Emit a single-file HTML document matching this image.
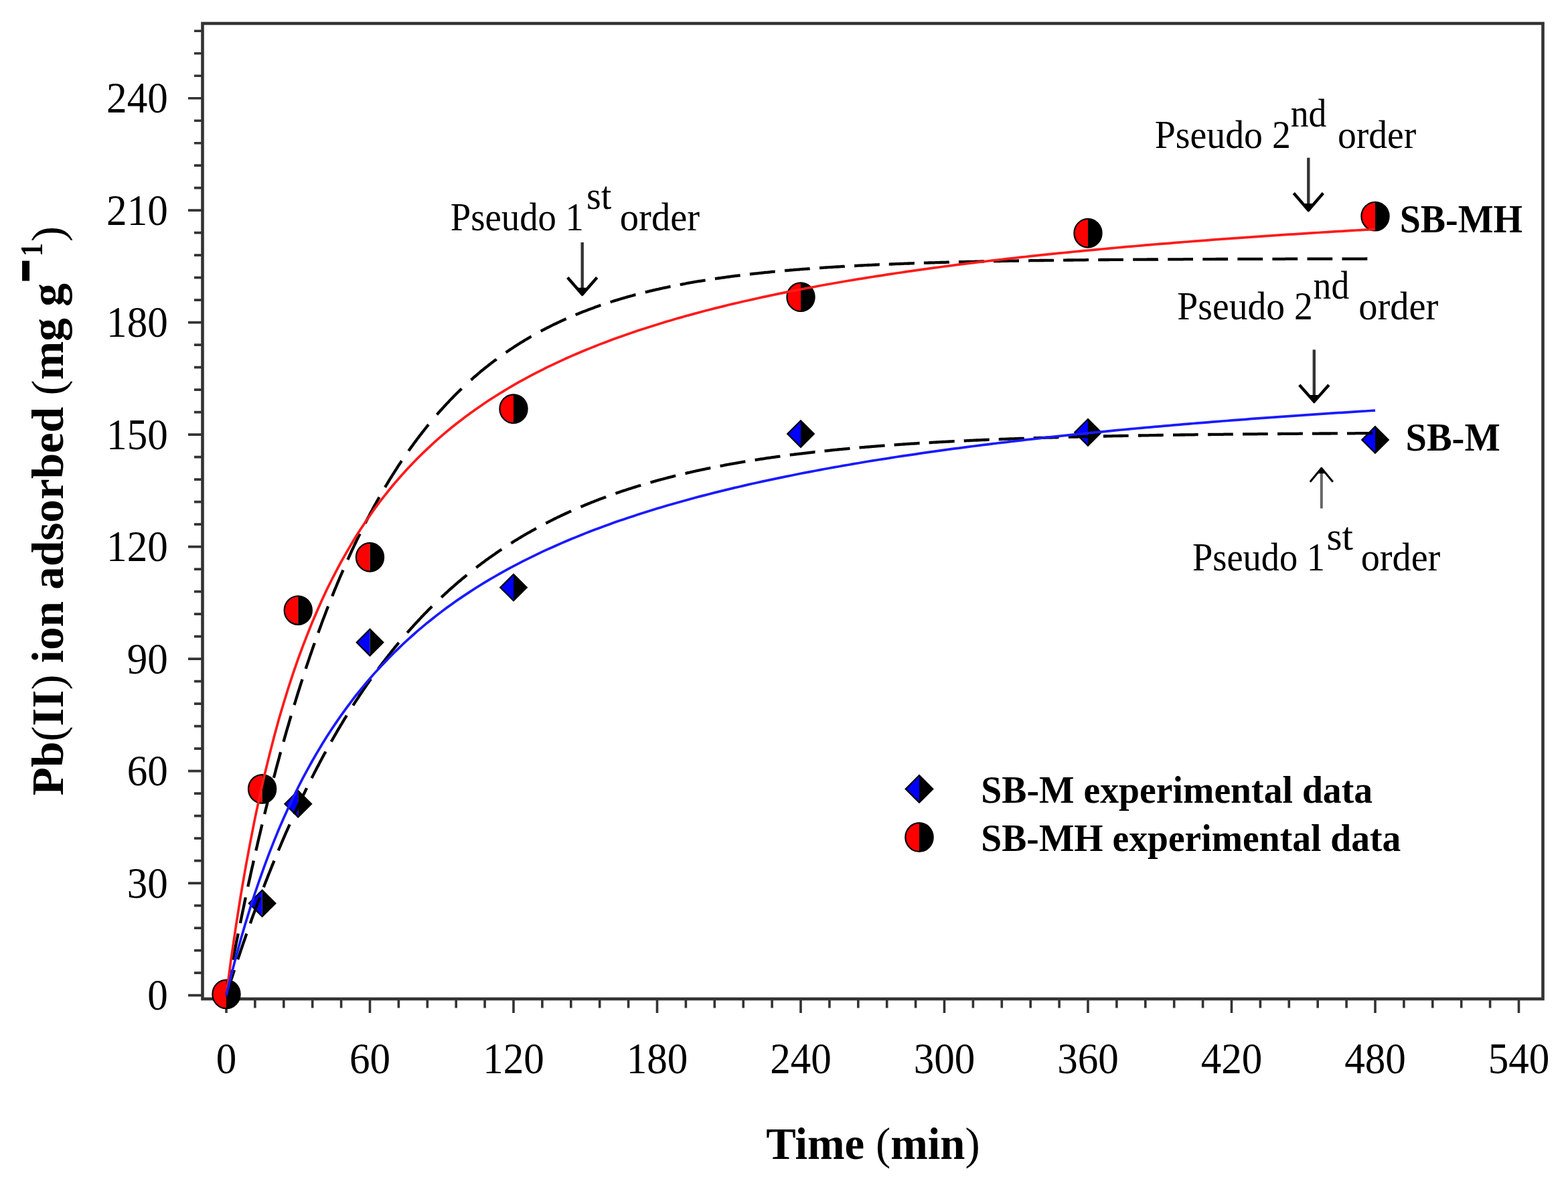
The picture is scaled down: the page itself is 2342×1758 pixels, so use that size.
<!DOCTYPE html>
<html><head><meta charset="utf-8"><title>Pb(II) adsorption kinetics</title>
<style>
html,body{margin:0;padding:0;background:#fff;}
svg{display:block;}
text{font-family:"Liberation Serif","Times New Roman",serif;fill:#000;}

</style></head>
<body>
<svg width="2342" height="1758" viewBox="0 0 2342 1758">
<rect width="2342" height="1758" fill="#fff"/>
<rect x="302.5" y="35.0" width="2002.0" height="1457.0" fill="none" stroke="#333" stroke-width="4.6"/>
<path d="M281.0,1486.60H302.5 M290.0,1453.10H302.5 M290.0,1419.60H302.5 M290.0,1386.11H302.5 M290.0,1352.61H302.5 M281.0,1319.11H302.5 M290.0,1285.61H302.5 M290.0,1252.11H302.5 M290.0,1218.62H302.5 M290.0,1185.12H302.5 M281.0,1151.62H302.5 M290.0,1118.12H302.5 M290.0,1084.62H302.5 M290.0,1051.13H302.5 M290.0,1017.63H302.5 M281.0,984.13H302.5 M290.0,950.63H302.5 M290.0,917.13H302.5 M290.0,883.64H302.5 M290.0,850.14H302.5 M281.0,816.64H302.5 M290.0,783.14H302.5 M290.0,749.64H302.5 M290.0,716.15H302.5 M290.0,682.65H302.5 M281.0,649.15H302.5 M290.0,615.65H302.5 M290.0,582.15H302.5 M290.0,548.66H302.5 M290.0,515.16H302.5 M281.0,481.66H302.5 M290.0,448.16H302.5 M290.0,414.66H302.5 M290.0,381.17H302.5 M290.0,347.67H302.5 M281.0,314.17H302.5 M290.0,280.67H302.5 M290.0,247.17H302.5 M290.0,213.68H302.5 M290.0,180.18H302.5 M281.0,146.68H302.5 M290.0,113.18H302.5 M290.0,79.68H302.5 M290.0,46.19H302.5 M338.00,1492.0V1513.0 M380.90,1492.0V1505.5 M423.80,1492.0V1505.5 M466.70,1492.0V1505.5 M509.60,1492.0V1505.5 M552.50,1492.0V1513.0 M595.40,1492.0V1505.5 M638.30,1492.0V1505.5 M681.20,1492.0V1505.5 M724.10,1492.0V1505.5 M767.00,1492.0V1513.0 M809.90,1492.0V1505.5 M852.80,1492.0V1505.5 M895.70,1492.0V1505.5 M938.60,1492.0V1505.5 M981.50,1492.0V1513.0 M1024.40,1492.0V1505.5 M1067.30,1492.0V1505.5 M1110.20,1492.0V1505.5 M1153.10,1492.0V1505.5 M1196.00,1492.0V1513.0 M1238.90,1492.0V1505.5 M1281.80,1492.0V1505.5 M1324.70,1492.0V1505.5 M1367.60,1492.0V1505.5 M1410.50,1492.0V1513.0 M1453.40,1492.0V1505.5 M1496.30,1492.0V1505.5 M1539.20,1492.0V1505.5 M1582.10,1492.0V1505.5 M1625.00,1492.0V1513.0 M1667.90,1492.0V1505.5 M1710.80,1492.0V1505.5 M1753.70,1492.0V1505.5 M1796.60,1492.0V1505.5 M1839.50,1492.0V1513.0 M1882.40,1492.0V1505.5 M1925.30,1492.0V1505.5 M1968.20,1492.0V1505.5 M2011.10,1492.0V1505.5 M2054.00,1492.0V1513.0 M2096.90,1492.0V1505.5 M2139.80,1492.0V1505.5 M2182.70,1492.0V1505.5 M2225.60,1492.0V1505.5 M2268.50,1492.0V1513.0" stroke="#333" stroke-width="3.6" fill="none"/>
<text class="r" transform="translate(250.79,1508.41) scale(0.92,1)" font-size="66.5" text-anchor="end">0</text>
<text class="r" transform="translate(250.79,1340.92) scale(0.92,1)" font-size="66.5" text-anchor="end">30</text>
<text class="r" transform="translate(250.79,1173.43) scale(0.92,1)" font-size="66.5" text-anchor="end">60</text>
<text class="r" transform="translate(250.79,1005.94) scale(0.92,1)" font-size="66.5" text-anchor="end">90</text>
<text class="r" transform="translate(250.79,838.45) scale(0.92,1)" font-size="66.5" text-anchor="end">120</text>
<text class="r" transform="translate(250.79,670.96) scale(0.92,1)" font-size="66.5" text-anchor="end">150</text>
<text class="r" transform="translate(250.79,503.47) scale(0.92,1)" font-size="66.5" text-anchor="end">180</text>
<text class="r" transform="translate(250.79,335.98) scale(0.92,1)" font-size="66.5" text-anchor="end">210</text>
<text class="r" transform="translate(250.79,168.49) scale(0.92,1)" font-size="66.5" text-anchor="end">240</text>
<text class="r" transform="translate(338.00,1602.6) scale(0.92,1)" font-size="66.5" text-anchor="middle">0</text>
<text class="r" transform="translate(552.50,1602.6) scale(0.92,1)" font-size="66.5" text-anchor="middle">60</text>
<text class="r" transform="translate(767.00,1602.6) scale(0.92,1)" font-size="66.5" text-anchor="middle">120</text>
<text class="r" transform="translate(981.50,1602.6) scale(0.92,1)" font-size="66.5" text-anchor="middle">180</text>
<text class="r" transform="translate(1196.00,1602.6) scale(0.92,1)" font-size="66.5" text-anchor="middle">240</text>
<text class="r" transform="translate(1410.50,1602.6) scale(0.92,1)" font-size="66.5" text-anchor="middle">300</text>
<text class="r" transform="translate(1625.00,1602.6) scale(0.92,1)" font-size="66.5" text-anchor="middle">360</text>
<text class="r" transform="translate(1839.50,1602.6) scale(0.92,1)" font-size="66.5" text-anchor="middle">420</text>
<text class="r" transform="translate(2054.00,1602.6) scale(0.92,1)" font-size="66.5" text-anchor="middle">480</text>
<text class="r" transform="translate(2268.50,1602.6) scale(0.92,1)" font-size="66.5" text-anchor="middle">540</text>
<g><path d="M338.0,1466.8 L318.2,1486.6 L338.0,1506.3999999999999 Z" fill="#0000ff"/><path d="M338.0,1466.8 L357.8,1486.6 L338.0,1506.3999999999999 Z" fill="#000"/><path d="M338.0,1466.8 L357.8,1486.6 L338.0,1506.3999999999999 L318.2,1486.6 Z" fill="none" stroke="#000" stroke-width="2.2" stroke-linejoin="miter"/></g>
<g><path d="M391.62,1329.46 L371.82,1349.26 L391.62,1369.06 Z" fill="#0000ff"/><path d="M391.62,1329.46 L411.42,1349.26 L391.62,1369.06 Z" fill="#000"/><path d="M391.62,1329.46 L411.42,1349.26 L391.62,1369.06 L371.82,1349.26 Z" fill="none" stroke="#000" stroke-width="2.2" stroke-linejoin="miter"/></g>
<g><path d="M445.25,1180.95 L425.45,1200.75 L445.25,1220.55 Z" fill="#0000ff"/><path d="M445.25,1180.95 L465.05,1200.75 L445.25,1220.55 Z" fill="#000"/><path d="M445.25,1180.95 L465.05,1200.75 L445.25,1220.55 L425.45,1200.75 Z" fill="none" stroke="#000" stroke-width="2.2" stroke-linejoin="miter"/></g>
<g><path d="M552.5,939.76 L532.7,959.56 L552.5,979.3599999999999 Z" fill="#0000ff"/><path d="M552.5,939.76 L572.3,959.56 L552.5,979.3599999999999 Z" fill="#000"/><path d="M552.5,939.76 L572.3,959.56 L552.5,979.3599999999999 L532.7,959.56 Z" fill="none" stroke="#000" stroke-width="2.2" stroke-linejoin="miter"/></g>
<g><path d="M767.0,857.69 L747.2,877.49 L767.0,897.29 Z" fill="#0000ff"/><path d="M767.0,857.69 L786.8,877.49 L767.0,897.29 Z" fill="#000"/><path d="M767.0,857.69 L786.8,877.49 L767.0,897.29 L747.2,877.49 Z" fill="none" stroke="#000" stroke-width="2.2" stroke-linejoin="miter"/></g>
<g><path d="M1196.0,628.23 L1176.2,648.03 L1196.0,667.8299999999999 Z" fill="#0000ff"/><path d="M1196.0,628.23 L1215.8,648.03 L1196.0,667.8299999999999 Z" fill="#000"/><path d="M1196.0,628.23 L1215.8,648.03 L1196.0,667.8299999999999 L1176.2,648.03 Z" fill="none" stroke="#000" stroke-width="2.2" stroke-linejoin="miter"/></g>
<g><path d="M1625.0,626.0 L1605.2,645.8 L1625.0,665.5999999999999 Z" fill="#0000ff"/><path d="M1625.0,626.0 L1644.8,645.8 L1625.0,665.5999999999999 Z" fill="#000"/><path d="M1625.0,626.0 L1644.8,645.8 L1625.0,665.5999999999999 L1605.2,645.8 Z" fill="none" stroke="#000" stroke-width="2.2" stroke-linejoin="miter"/></g>
<g><path d="M2054.0,637.1700000000001 L2034.2,656.97 L2054.0,676.77 Z" fill="#0000ff"/><path d="M2054.0,637.1700000000001 L2073.8,656.97 L2054.0,676.77 Z" fill="#000"/><path d="M2054.0,637.1700000000001 L2073.8,656.97 L2054.0,676.77 L2034.2,656.97 Z" fill="none" stroke="#000" stroke-width="2.2" stroke-linejoin="miter"/></g>
<g><path d="M338.0,1463.6090000000002 A20.6,21.321 0 0 0 338.0,1506.251 Z" fill="#ff0000"/><path d="M338.0,1463.6090000000002 A20.6,21.321 0 0 1 338.0,1506.251 Z" fill="#000"/><ellipse cx="338.0" cy="1484.93" rx="20.6" ry="21.321" fill="none" stroke="#000" stroke-width="2.2"/></g>
<g><path d="M391.62,1157.0990000000002 A20.6,21.321 0 0 0 391.62,1199.741 Z" fill="#ff0000"/><path d="M391.62,1157.0990000000002 A20.6,21.321 0 0 1 391.62,1199.741 Z" fill="#000"/><ellipse cx="391.62" cy="1178.42" rx="20.6" ry="21.321" fill="none" stroke="#000" stroke-width="2.2"/></g>
<g><path d="M445.25,890.2289999999999 A20.6,21.321 0 0 0 445.25,932.871 Z" fill="#ff0000"/><path d="M445.25,890.2289999999999 A20.6,21.321 0 0 1 445.25,932.871 Z" fill="#000"/><ellipse cx="445.25" cy="911.55" rx="20.6" ry="21.321" fill="none" stroke="#000" stroke-width="2.2"/></g>
<g><path d="M552.5,810.949 A20.6,21.321 0 0 0 552.5,853.591 Z" fill="#ff0000"/><path d="M552.5,810.949 A20.6,21.321 0 0 1 552.5,853.591 Z" fill="#000"/><ellipse cx="552.5" cy="832.27" rx="20.6" ry="21.321" fill="none" stroke="#000" stroke-width="2.2"/></g>
<g><path d="M767.0,589.309 A20.6,21.321 0 0 0 767.0,631.951 Z" fill="#ff0000"/><path d="M767.0,589.309 A20.6,21.321 0 0 1 767.0,631.951 Z" fill="#000"/><ellipse cx="767.0" cy="610.63" rx="20.6" ry="21.321" fill="none" stroke="#000" stroke-width="2.2"/></g>
<g><path d="M1196.0,422.37899999999996 A20.6,21.321 0 0 0 1196.0,465.021 Z" fill="#ff0000"/><path d="M1196.0,422.37899999999996 A20.6,21.321 0 0 1 1196.0,465.021 Z" fill="#000"/><ellipse cx="1196.0" cy="443.7" rx="20.6" ry="21.321" fill="none" stroke="#000" stroke-width="2.2"/></g>
<g><path d="M1625.0,326.909 A20.6,21.321 0 0 0 1625.0,369.55100000000004 Z" fill="#ff0000"/><path d="M1625.0,326.909 A20.6,21.321 0 0 1 1625.0,369.55100000000004 Z" fill="#000"/><ellipse cx="1625.0" cy="348.23" rx="20.6" ry="21.321" fill="none" stroke="#000" stroke-width="2.2"/></g>
<g><path d="M2054.0,301.779 A20.6,21.321 0 0 0 2054.0,344.42100000000005 Z" fill="#ff0000"/><path d="M2054.0,301.779 A20.6,21.321 0 0 1 2054.0,344.42100000000005 Z" fill="#000"/><ellipse cx="2054.0" cy="323.1" rx="20.6" ry="21.321" fill="none" stroke="#000" stroke-width="2.2"/></g>
<path d="M338.0,1486.6 L339.4,1478.9 L340.9,1471.2 L342.3,1463.6 L343.7,1456.0 L345.1,1448.5 M348.0,1433.6 L349.4,1426.2 L350.9,1418.9 L352.3,1411.6 L353.7,1404.4 L355.2,1397.3 L355.7,1394.4 M358.9,1378.9 L360.3,1371.9 L361.7,1365.0 L363.2,1358.1 L364.6,1351.3 L366.0,1344.5 L366.9,1340.4 M370.3,1324.4 L371.7,1317.8 L373.2,1311.3 L374.6,1304.8 L376.0,1298.3 L377.5,1291.9 L378.9,1285.5 M382.3,1270.4 L383.8,1264.2 L385.2,1258.0 L386.6,1251.9 L388.1,1245.8 L389.5,1239.8 L390.9,1233.8 L391.5,1231.4 M395.2,1216.0 L396.6,1210.2 L398.1,1204.4 L399.5,1198.6 L400.9,1192.9 L402.4,1187.3 L403.8,1181.6 L404.9,1177.2 M408.9,1161.7 L410.4,1156.2 L411.8,1150.8 L413.2,1145.4 L414.6,1140.1 L416.1,1134.8 L417.5,1129.5 L418.9,1124.3 L419.2,1123.3 M423.5,1107.8 L424.9,1102.8 L426.4,1097.7 L427.8,1092.7 L429.2,1087.8 L430.7,1082.8 L432.1,1077.9 L433.5,1073.1 L434.7,1069.2 M439.5,1053.0 L441.0,1048.3 L442.4,1043.7 L443.8,1039.1 L445.2,1034.5 L446.7,1029.9 L448.1,1025.4 L449.5,1020.9 L451.0,1016.4 L451.5,1014.6 M456.7,998.9 L458.1,994.6 L459.6,990.3 L461.0,986.1 L462.4,981.8 L463.8,977.7 L465.3,973.5 L466.7,969.4 L468.1,965.3 L469.6,961.2 L469.8,960.4 M475.3,945.2 L476.7,941.3 L478.1,937.4 L479.6,933.5 L481.0,929.6 L482.4,925.8 L483.9,922.0 L485.3,918.3 L486.7,914.5 L488.1,910.8 L489.6,907.1 L490.2,905.7 M496.2,890.5 L497.6,886.9 L499.0,883.4 L500.4,879.9 L501.9,876.5 L503.3,873.0 L504.7,869.6 L506.2,866.2 L507.6,862.8 L509.0,859.5 L510.5,856.1 L511.9,852.8 L512.5,851.5 M519.3,836.0 L520.8,832.9 L522.2,829.7 L523.6,826.6 L525.0,823.5 L526.5,820.4 L527.9,817.4 L529.3,814.4 L530.8,811.3 L532.2,808.4 L533.6,805.4 L535.1,802.4 L536.5,799.5 L537.6,797.2 M545.4,781.8 L546.8,779.0 L548.2,776.3 L549.6,773.5 L551.1,770.8 L552.5,768.1 L553.9,765.4 L555.4,762.8 L556.8,760.1 L558.2,757.5 L559.6,754.9 L561.1,752.3 L562.5,749.7 L563.9,747.2 L565.4,744.6 L566.5,742.6 M575.1,727.8 L576.5,725.4 L578.0,723.1 L579.4,720.7 L580.8,718.3 L582.2,716.0 L583.7,713.7 L585.1,711.4 L586.5,709.1 L588.0,706.8 L589.4,704.6 L590.8,702.3 L592.3,700.1 L593.7,697.9 L595.1,695.7 L596.5,693.5 L598.0,691.4 L599.4,689.2 L600.0,688.4 M610.3,673.4 L611.7,671.4 L613.1,669.4 L614.6,667.4 L616.0,665.4 L617.4,663.5 L618.9,661.5 L620.3,659.6 L621.7,657.7 L623.1,655.7 L624.6,653.9 L626.0,652.0 L627.4,650.1 L628.9,648.3 L630.3,646.4 L631.7,644.6 L633.2,642.8 L634.6,641.0 L636.0,639.2 L637.4,637.4 L638.9,635.6 L640.0,634.2 M652.6,619.3 L654.0,617.7 L655.5,616.0 L656.9,614.4 L658.3,612.8 L659.8,611.2 L661.2,609.6 L662.6,608.1 L664.0,606.5 L665.5,605.0 L666.9,603.4 L668.3,601.9 L669.8,600.4 L671.2,598.9 L672.6,597.4 L674.0,595.9 L675.5,594.4 L676.9,593.0 L678.3,591.5 L679.8,590.1 L681.2,588.6 L682.6,587.2 L684.1,585.8 L685.5,584.4 L686.9,583.0 L688.4,581.6 L689.5,580.5 M703.5,567.5 L704.9,566.3 L706.4,565.0 L707.8,563.7 L709.2,562.5 L710.7,561.3 L712.1,560.0 L713.5,558.8 L714.9,557.6 L716.4,556.4 L717.8,555.2 L719.2,554.0 L720.7,552.8 L722.1,551.7 L723.5,550.5 L725.0,549.3 L726.4,548.2 L727.8,547.1 L729.2,545.9 L730.7,544.8 L732.1,543.7 L733.5,542.6 L735.0,541.5 L736.4,540.4 L737.8,539.3 L739.3,538.2 L740.7,537.2 L741.5,536.5 M755.6,526.5 L757.0,525.5 L758.4,524.5 L759.9,523.6 L761.3,522.6 L762.7,521.6 L764.1,520.7 L765.6,519.7 L767.0,518.8 L768.4,517.9 L769.9,516.9 L771.3,516.0 L772.7,515.1 L774.2,514.2 L775.6,513.3 L777.0,512.4 L778.4,511.5 L779.9,510.6 L781.3,509.8 L782.7,508.9 L784.2,508.0 L785.6,507.2 L787.0,506.3 L788.5,505.5 L789.9,504.7 L791.3,503.8 L792.7,503.0 L793.6,502.5 M807.6,494.7 L809.0,494.0 L810.5,493.2 L811.9,492.5 L813.3,491.7 L814.8,491.0 L816.2,490.2 L817.6,489.5 L819.1,488.8 L820.5,488.1 L821.9,487.3 L823.3,486.6 L824.8,485.9 L826.2,485.2 L827.6,484.5 L829.1,483.8 L830.5,483.2 L831.9,482.5 L833.4,481.8 L834.8,481.1 L836.2,480.5 L837.6,479.8 L839.1,479.1 L840.5,478.5 L841.9,477.8 L843.4,477.2 L844.8,476.6 L845.7,476.2 M859.7,470.2 L861.1,469.6 L862.5,469.0 L864.0,468.4 L865.4,467.8 L866.8,467.3 L868.2,466.7 L869.7,466.1 L871.1,465.6 L872.5,465.0 L874.0,464.5 L875.4,463.9 L876.8,463.4 L878.3,462.8 L879.7,462.3 L881.1,461.8 L882.5,461.2 L884.0,460.7 L885.4,460.2 L886.8,459.7 L888.3,459.1 L889.7,458.6 L891.1,458.1 L892.6,457.6 L894.0,457.1 L895.4,456.6 L896.8,456.1 L897.4,455.9 M911.7,451.2 L913.1,450.7 L914.6,450.3 L916.0,449.8 L917.4,449.4 L918.9,448.9 L920.3,448.5 L921.7,448.1 L923.2,447.6 L924.6,447.2 L926.0,446.8 L927.4,446.3 L928.9,445.9 L930.3,445.5 L931.7,445.1 L933.2,444.7 L934.6,444.3 L936.0,443.8 L937.5,443.4 L938.9,443.0 L940.3,442.6 L941.7,442.2 L943.2,441.8 L944.6,441.5 L946.0,441.1 L947.5,440.7 L948.9,440.3 L949.5,440.2 M963.8,436.5 L965.2,436.1 L966.6,435.8 L968.1,435.4 L969.5,435.1 L970.9,434.7 L972.3,434.4 L973.8,434.1 L975.2,433.7 L976.6,433.4 L978.1,433.1 L979.5,432.7 L980.9,432.4 L982.4,432.1 L983.8,431.8 L985.2,431.4 L986.6,431.1 L988.1,430.8 L989.5,430.5 L990.9,430.2 L992.4,429.9 L993.8,429.6 L995.2,429.3 L996.7,429.0 L998.1,428.7 L999.5,428.4 L1000.9,428.1 L1001.5,428.0 M1015.8,425.1 L1017.2,424.8 L1018.7,424.6 L1020.1,424.3 L1021.5,424.0 L1023.0,423.8 L1024.4,423.5 L1025.8,423.2 L1027.3,423.0 L1028.7,422.7 L1030.1,422.5 L1031.6,422.2 L1033.0,422.0 L1034.4,421.7 L1035.8,421.5 L1037.3,421.2 L1038.7,421.0 L1040.1,420.7 L1041.6,420.5 L1043.0,420.2 L1044.4,420.0 L1045.8,419.8 L1047.3,419.5 L1048.7,419.3 L1050.1,419.1 L1051.6,418.8 L1053.0,418.6 L1053.6,418.5 M1067.9,416.3 L1069.3,416.1 L1070.7,415.9 L1072.2,415.7 L1073.6,415.5 L1075.0,415.3 L1076.5,415.1 L1077.9,414.9 L1079.3,414.7 L1080.7,414.5 L1082.2,414.3 L1083.6,414.1 L1085.0,413.9 L1086.5,413.7 L1087.9,413.5 L1089.3,413.3 L1090.8,413.1 L1092.2,412.9 L1093.6,412.7 L1095.0,412.6 L1096.5,412.4 L1097.9,412.2 L1099.3,412.0 L1100.8,411.8 L1102.2,411.6 L1103.6,411.5 L1105.1,411.3 L1105.6,411.2 M1119.9,409.5 L1121.4,409.4 L1122.8,409.2 L1124.2,409.0 L1125.6,408.9 L1127.1,408.7 L1128.5,408.6 L1129.9,408.4 L1131.4,408.3 L1132.8,408.1 L1134.2,407.9 L1135.7,407.8 L1137.1,407.6 L1138.5,407.5 L1139.9,407.3 L1141.4,407.2 L1142.8,407.0 L1144.2,406.9 L1145.7,406.8 L1147.1,406.6 L1148.5,406.5 L1150.0,406.3 L1151.4,406.2 L1152.8,406.0 L1154.2,405.9 L1155.7,405.8 L1157.1,405.6 L1157.7,405.6 M1172.0,404.3 L1173.4,404.1 L1174.8,404.0 L1176.3,403.9 L1177.7,403.8 L1179.1,403.6 L1180.6,403.5 L1182.0,403.4 L1183.4,403.3 L1184.8,403.2 L1186.3,403.0 L1187.7,402.9 L1189.1,402.8 L1190.6,402.7 L1192.0,402.6 L1193.4,402.5 L1194.9,402.3 L1196.3,402.2 L1197.7,402.1 L1199.1,402.0 L1200.6,401.9 L1202.0,401.8 L1203.4,401.7 L1204.9,401.6 L1206.3,401.5 L1207.7,401.4 L1209.2,401.3 L1209.7,401.2 M1224.0,400.2 L1225.5,400.1 L1226.9,400.0 L1228.3,399.9 L1229.7,399.8 L1231.2,399.7 L1232.6,399.6 L1234.0,399.5 L1235.5,399.4 L1236.9,399.3 L1238.3,399.2 L1239.8,399.2 L1241.2,399.1 L1242.6,399.0 L1244.0,398.9 L1245.5,398.8 L1246.9,398.7 L1248.3,398.6 L1249.8,398.5 L1251.2,398.5 L1252.6,398.4 L1254.1,398.3 L1255.5,398.2 L1256.9,398.1 L1258.3,398.0 L1259.8,397.9 L1261.2,397.9 L1261.8,397.8 M1276.1,397.0 L1277.5,397.0 L1278.9,396.9 L1280.4,396.8 L1281.8,396.7 L1283.2,396.7 L1284.7,396.6 L1286.1,396.5 L1287.5,396.5 L1289.0,396.4 L1290.4,396.3 L1291.8,396.2 L1293.2,396.2 L1294.7,396.1 L1296.1,396.0 L1297.5,396.0 L1299.0,395.9 L1300.4,395.8 L1301.8,395.8 L1303.2,395.7 L1304.7,395.6 L1306.1,395.6 L1307.5,395.5 L1309.0,395.4 L1310.4,395.4 L1311.8,395.3 L1313.3,395.2 L1313.8,395.2 M1327.8,394.6 L1329.3,394.6 L1330.7,394.5 L1332.1,394.5 L1333.6,394.4 L1335.0,394.3 L1336.4,394.3 L1337.9,394.2 L1339.3,394.2 L1340.7,394.1 L1342.1,394.1 L1343.6,394.0 L1345.0,394.0 L1346.4,393.9 L1347.9,393.8 L1349.3,393.8 L1350.7,393.7 L1352.2,393.7 L1353.6,393.6 L1355.0,393.6 L1356.4,393.5 L1357.9,393.5 L1359.3,393.4 L1360.7,393.4 L1362.2,393.3 L1363.6,393.3 L1365.0,393.2 L1365.9,393.2 M1379.9,392.7 L1381.3,392.7 L1382.8,392.7 L1384.2,392.6 L1385.6,392.6 L1387.0,392.5 L1388.5,392.5 L1389.9,392.4 L1391.3,392.4 L1392.8,392.3 L1394.2,392.3 L1395.6,392.3 L1397.1,392.2 L1398.5,392.2 L1399.9,392.1 L1401.3,392.1 L1402.8,392.1 L1404.2,392.0 L1405.6,392.0 L1407.1,391.9 L1408.5,391.9 L1409.9,391.9 L1411.4,391.8 L1412.8,391.8 L1414.2,391.7 L1415.6,391.7 L1417.1,391.7 L1417.9,391.6 M1432.0,391.3 L1433.4,391.2 L1434.8,391.2 L1436.2,391.2 L1437.7,391.1 L1439.1,391.1 L1440.5,391.1 L1442.0,391.0 L1443.4,391.0 L1444.8,391.0 L1446.2,390.9 L1447.7,390.9 L1449.1,390.9 L1450.5,390.8 L1452.0,390.8 L1453.4,390.8 L1454.8,390.8 L1456.3,390.7 L1457.7,390.7 L1459.1,390.7 L1460.5,390.6 L1462.0,390.6 L1463.4,390.6 L1464.8,390.5 L1466.3,390.5 L1467.7,390.5 L1469.1,390.4 L1470.0,390.4 M1484.0,390.2 L1485.4,390.1 L1486.9,390.1 L1488.3,390.1 L1489.7,390.0 L1491.2,390.0 L1492.6,390.0 L1494.0,390.0 L1495.4,389.9 L1496.9,389.9 L1498.3,389.9 L1499.7,389.9 L1501.2,389.8 L1502.6,389.8 L1504.0,389.8 L1505.5,389.8 L1506.9,389.7 L1508.3,389.7 L1509.7,389.7 L1511.2,389.7 L1512.6,389.6 L1514.0,389.6 L1515.5,389.6 L1516.9,389.6 L1518.3,389.6 L1519.8,389.5 L1521.2,389.5 L1522.0,389.5 M1536.1,389.3 L1537.5,389.3 L1538.9,389.2 L1540.3,389.2 L1541.8,389.2 L1543.2,389.2 L1544.6,389.2 L1546.1,389.1 L1547.5,389.1 L1548.9,389.1 L1550.4,389.1 L1551.8,389.1 L1553.2,389.0 L1554.6,389.0 L1556.1,389.0 L1557.5,389.0 L1558.9,389.0 L1560.4,388.9 L1561.8,388.9 L1563.2,388.9 L1564.7,388.9 L1566.1,388.9 L1567.5,388.9 L1568.9,388.8 L1570.4,388.8 L1571.8,388.8 L1573.2,388.8 L1574.1,388.8 M1588.1,388.6 L1589.5,388.6 L1591.0,388.6 L1592.4,388.6 L1593.8,388.5 L1595.3,388.5 L1596.7,388.5 L1598.1,388.5 L1599.5,388.5 L1601.0,388.5 L1602.4,388.5 L1603.8,388.4 L1605.3,388.4 L1606.7,388.4 L1608.1,388.4 L1609.6,388.4 L1611.0,388.4 L1612.4,388.3 L1613.8,388.3 L1615.3,388.3 L1616.7,388.3 L1618.1,388.3 L1619.6,388.3 L1621.0,388.3 L1622.4,388.2 L1623.9,388.2 L1625.3,388.2 L1626.1,388.2 M1640.2,388.1 L1641.6,388.1 L1643.0,388.1 L1644.4,388.0 L1645.9,388.0 L1647.3,388.0 L1648.7,388.0 L1650.2,388.0 L1651.6,388.0 L1653.0,388.0 L1654.5,388.0 L1655.9,388.0 L1657.3,387.9 L1658.7,387.9 L1660.2,387.9 L1661.6,387.9 L1663.0,387.9 L1664.5,387.9 L1665.9,387.9 L1667.3,387.9 L1668.8,387.9 L1670.2,387.8 L1671.6,387.8 L1673.0,387.8 L1674.5,387.8 L1675.9,387.8 L1677.3,387.8 L1677.9,387.8 M1692.2,387.7 L1693.6,387.7 L1695.1,387.7 L1696.5,387.7 L1697.9,387.6 L1699.4,387.6 L1700.8,387.6 L1702.2,387.6 L1703.7,387.6 L1705.1,387.6 L1706.5,387.6 L1707.9,387.6 L1709.4,387.6 L1710.8,387.6 L1712.2,387.6 L1713.7,387.5 L1715.1,387.5 L1716.5,387.5 L1718.0,387.5 L1719.4,387.5 L1720.8,387.5 L1722.2,387.5 L1723.7,387.5 L1725.1,387.5 L1726.5,387.5 L1728.0,387.5 L1729.4,387.5 L1730.0,387.4 M1744.3,387.4 L1745.7,387.4 L1747.1,387.4 L1748.6,387.3 L1750.0,387.3 L1751.4,387.3 L1752.8,387.3 L1754.3,387.3 L1755.7,387.3 L1757.1,387.3 L1758.6,387.3 L1760.0,387.3 L1761.4,387.3 L1762.9,387.3 L1764.3,387.3 L1765.7,387.3 L1767.1,387.3 L1768.6,387.2 L1770.0,387.2 L1771.4,387.2 L1772.9,387.2 L1774.3,387.2 L1775.7,387.2 L1777.2,387.2 L1778.6,387.2 L1780.0,387.2 L1781.4,387.2 L1782.0,387.2 M1796.3,387.1 L1797.7,387.1 L1799.2,387.1 L1800.6,387.1 L1802.0,387.1 L1803.5,387.1 L1804.9,387.1 L1806.3,387.1 L1807.8,387.1 L1809.2,387.1 L1810.6,387.1 L1812.0,387.1 L1813.5,387.1 L1814.9,387.1 L1816.3,387.0 L1817.8,387.0 L1819.2,387.0 L1820.6,387.0 L1822.1,387.0 L1823.5,387.0 L1824.9,387.0 L1826.3,387.0 L1827.8,387.0 L1829.2,387.0 L1830.6,387.0 L1832.1,387.0 L1833.5,387.0 L1834.1,387.0 M1848.4,386.9 L1849.8,386.9 L1851.2,386.9 L1852.7,386.9 L1854.1,386.9 L1855.5,386.9 L1856.9,386.9 L1858.4,386.9 L1859.8,386.9 L1861.2,386.9 L1862.7,386.9 L1864.1,386.9 L1865.5,386.9 L1867.0,386.9 L1868.4,386.9 L1869.8,386.9 L1871.2,386.9 L1872.7,386.9 L1874.1,386.9 L1875.5,386.9 L1877.0,386.9 L1878.4,386.9 L1879.8,386.8 L1881.3,386.8 L1882.7,386.8 L1884.1,386.8 L1885.5,386.8 L1886.1,386.8 M1900.4,386.8 L1901.8,386.8 L1903.3,386.8 L1904.7,386.8 L1906.1,386.8 L1907.6,386.8 L1909.0,386.8 L1910.4,386.8 L1911.9,386.8 L1913.3,386.8 L1914.7,386.8 L1916.1,386.8 L1917.6,386.8 L1919.0,386.8 L1920.4,386.7 L1921.9,386.7 L1923.3,386.7 L1924.7,386.7 L1926.2,386.7 L1927.6,386.7 L1929.0,386.7 L1930.4,386.7 L1931.9,386.7 L1933.3,386.7 L1934.7,386.7 L1936.2,386.7 L1937.6,386.7 L1938.2,386.7 M1952.5,386.7 L1953.9,386.7 L1955.3,386.7 L1956.8,386.7 L1958.2,386.7 L1959.6,386.7 L1961.1,386.7 L1962.5,386.7 L1963.9,386.7 L1965.3,386.7 L1966.8,386.7 L1968.2,386.7 L1969.6,386.7 L1971.1,386.7 L1972.5,386.6 L1973.9,386.6 L1975.4,386.6 L1976.8,386.6 L1978.2,386.6 L1979.6,386.6 L1981.1,386.6 L1982.5,386.6 L1983.9,386.6 L1985.4,386.6 L1986.8,386.6 L1988.2,386.6 L1989.7,386.6 L1990.2,386.6 M2004.5,386.6 L2006.0,386.6 L2007.4,386.6 L2008.8,386.6 L2010.2,386.6 L2011.7,386.6 L2013.1,386.6 L2014.5,386.6 L2016.0,386.6 L2017.4,386.6 L2018.8,386.6 L2020.3,386.6 L2021.7,386.6 L2023.1,386.6 L2024.5,386.6 L2026.0,386.6 L2027.4,386.6 L2028.8,386.6 L2030.3,386.6 L2031.7,386.6 L2033.1,386.6 L2034.6,386.6 L2036.0,386.6 L2037.4,386.6 L2038.8,386.6 L2040.3,386.5 L2041.7,386.5 L2042.3,386.5" stroke="#000" stroke-width="4.3" fill="none"/>
<path d="M338.0,1486.6 L339.4,1482.0 L340.9,1477.5 L342.3,1472.9 L343.7,1468.4 L345.1,1463.9 L346.6,1459.5 L348.0,1455.0 L349.4,1450.6 L350.0,1448.9 M355.2,1433.2 L356.6,1428.9 L358.0,1424.7 L359.4,1420.4 L360.9,1416.2 L362.3,1412.0 L363.7,1407.8 L365.2,1403.7 L366.6,1399.6 L368.0,1395.4 L368.3,1394.6 M373.8,1379.2 L375.2,1375.2 L376.6,1371.3 L378.0,1367.3 L379.5,1363.4 L380.9,1359.5 L382.3,1355.6 L383.8,1351.7 L385.2,1347.9 L386.6,1344.0 L388.1,1340.2 M393.8,1325.2 L395.2,1321.5 L396.6,1317.8 L398.1,1314.2 L399.5,1310.5 L400.9,1306.9 L402.4,1303.3 L403.8,1299.7 L405.2,1296.2 L406.6,1292.6 L408.1,1289.1 L409.5,1285.6 M415.8,1270.4 L417.2,1267.0 L418.7,1263.6 L420.1,1260.2 L421.5,1256.9 L422.9,1253.6 L424.4,1250.2 L425.8,1246.9 L427.2,1243.7 L428.7,1240.4 L430.1,1237.2 L431.5,1234.0 L432.7,1231.4 M439.5,1216.2 L441.0,1213.1 L442.4,1210.0 L443.8,1207.0 L445.2,1203.9 L446.7,1200.9 L448.1,1197.8 L449.5,1194.8 L451.0,1191.8 L452.4,1188.9 L453.8,1185.9 L455.3,1183.0 L456.7,1180.0 L458.1,1177.1 M465.6,1162.2 L467.0,1159.4 L468.4,1156.6 L469.8,1153.8 L471.3,1151.1 L472.7,1148.3 L474.1,1145.6 L475.6,1142.9 L477.0,1140.1 L478.4,1137.4 L479.9,1134.8 L481.3,1132.1 L482.7,1129.5 L484.1,1126.8 L485.6,1124.2 L486.4,1122.6 M494.7,1107.8 L496.2,1105.2 L497.6,1102.7 L499.0,1100.2 L500.4,1097.8 L501.9,1095.3 L503.3,1092.9 L504.7,1090.4 L506.2,1088.0 L507.6,1085.6 L509.0,1083.2 L510.5,1080.8 L511.9,1078.4 L513.3,1076.1 L514.7,1073.7 L516.2,1071.4 L517.6,1069.1 L517.9,1068.6 M527.3,1053.7 L528.8,1051.4 L530.2,1049.2 L531.6,1047.0 L533.1,1044.8 L534.5,1042.7 L535.9,1040.5 L537.3,1038.3 L538.8,1036.2 L540.2,1034.1 L541.6,1032.0 L543.1,1029.9 L544.5,1027.8 L545.9,1025.7 L547.4,1023.6 L548.8,1021.6 L550.2,1019.5 L551.6,1017.5 L553.1,1015.5 L553.9,1014.2 M564.8,999.3 L566.2,997.3 L567.7,995.4 L569.1,993.5 L570.5,991.6 L571.9,989.7 L573.4,987.9 L574.8,986.0 L576.2,984.1 L577.7,982.3 L579.1,980.5 L580.5,978.6 L582.0,976.8 L583.4,975.0 L584.8,973.2 L586.2,971.4 L587.7,969.7 L589.1,967.9 L590.5,966.2 L592.0,964.4 L593.4,962.7 L594.8,960.9 L595.7,959.9 M608.3,945.2 L609.7,943.5 L611.1,941.9 L612.6,940.3 L614.0,938.7 L615.4,937.1 L616.9,935.5 L618.3,933.9 L619.7,932.4 L621.1,930.8 L622.6,929.3 L624.0,927.7 L625.4,926.2 L626.9,924.6 L628.3,923.1 L629.7,921.6 L631.2,920.1 L632.6,918.6 L634.0,917.1 L635.4,915.7 L636.9,914.2 L638.3,912.7 L639.7,911.3 L641.2,909.8 L642.6,908.4 L644.0,907.0 L645.2,905.8 M659.2,892.3 L660.6,890.9 L662.0,889.6 L663.5,888.3 L664.9,886.9 L666.3,885.6 L667.8,884.3 L669.2,883.0 L670.6,881.7 L672.0,880.4 L673.5,879.2 L674.9,877.9 L676.3,876.6 L677.8,875.4 L679.2,874.1 L680.6,872.9 L682.1,871.6 L683.5,870.4 L684.9,869.2 L686.3,868.0 L687.8,866.8 L689.2,865.5 L690.6,864.3 L692.1,863.2 L693.5,862.0 L694.9,860.8 L696.4,859.6 L697.2,858.9 M711.2,847.8 L712.7,846.7 L714.1,845.6 L715.5,844.5 L717.0,843.5 L718.4,842.4 L719.8,841.3 L721.2,840.2 L722.7,839.2 L724.1,838.1 L725.5,837.1 L727.0,836.0 L728.4,835.0 L729.8,834.0 L731.2,832.9 L732.7,831.9 L734.1,830.9 L735.5,829.9 L737.0,828.9 L738.4,827.9 L739.8,826.9 L741.3,825.9 L742.7,824.9 L744.1,824.0 L745.5,823.0 L747.0,822.0 L748.4,821.1 L749.3,820.5 M763.3,811.4 L764.7,810.5 L766.1,809.6 L767.6,808.7 L769.0,807.8 L770.4,806.9 L771.9,806.1 L773.3,805.2 L774.7,804.3 L776.2,803.5 L777.6,802.6 L779.0,801.7 L780.4,800.9 L781.9,800.0 L783.3,799.2 L784.7,798.4 L786.2,797.5 L787.6,796.7 L789.0,795.9 L790.5,795.1 L791.9,794.3 L793.3,793.5 L794.7,792.6 L796.2,791.8 L797.6,791.1 L799.0,790.3 L800.5,789.5 L801.0,789.2 M815.3,781.5 L816.8,780.8 L818.2,780.1 L819.6,779.3 L821.1,778.6 L822.5,777.9 L823.9,777.2 L825.3,776.5 L826.8,775.7 L828.2,775.0 L829.6,774.3 L831.1,773.6 L832.5,772.9 L833.9,772.2 L835.4,771.6 L836.8,770.9 L838.2,770.2 L839.6,769.5 L841.1,768.8 L842.5,768.2 L843.9,767.5 L845.4,766.8 L846.8,766.2 L848.2,765.5 L849.7,764.9 L851.1,764.2 L852.5,763.6 L853.1,763.3 M867.4,757.1 L868.8,756.5 L870.2,755.9 L871.7,755.3 L873.1,754.7 L874.5,754.1 L876.0,753.5 L877.4,752.9 L878.8,752.3 L880.3,751.7 L881.7,751.2 L883.1,750.6 L884.5,750.0 L886.0,749.5 L887.4,748.9 L888.8,748.3 L890.3,747.8 L891.7,747.2 L893.1,746.7 L894.6,746.1 L896.0,745.6 L897.4,745.0 L898.8,744.5 L900.3,743.9 L901.7,743.4 L903.1,742.9 L904.6,742.4 L905.1,742.1 M919.4,737.0 L920.9,736.5 L922.3,736.0 L923.7,735.5 L925.2,735.1 L926.6,734.6 L928.0,734.1 L929.4,733.6 L930.9,733.1 L932.3,732.6 L933.7,732.2 L935.2,731.7 L936.6,731.2 L938.0,730.8 L939.5,730.3 L940.9,729.9 L942.3,729.4 L943.7,728.9 L945.2,728.5 L946.6,728.0 L948.0,727.6 L949.5,727.1 L950.9,726.7 L952.3,726.3 L953.8,725.8 L955.2,725.4 L956.6,725.0 L957.2,724.8 M971.5,720.6 L972.9,720.2 L974.4,719.8 L975.8,719.4 L977.2,719.0 L978.6,718.6 L980.1,718.2 L981.5,717.8 L982.9,717.4 L984.4,717.0 L985.8,716.6 L987.2,716.2 L988.6,715.8 L990.1,715.5 L991.5,715.1 L992.9,714.7 L994.4,714.3 L995.8,714.0 L997.2,713.6 L998.7,713.2 L1000.1,712.9 L1001.5,712.5 L1003.0,712.1 L1004.4,711.8 L1005.8,711.4 L1007.2,711.0 L1008.7,710.7 L1009.2,710.6 M1023.5,707.1 L1025.0,706.8 L1026.4,706.4 L1027.8,706.1 L1029.3,705.8 L1030.7,705.5 L1032.1,705.1 L1033.6,704.8 L1035.0,704.5 L1036.4,704.2 L1037.8,703.9 L1039.3,703.5 L1040.7,703.2 L1042.1,702.9 L1043.6,702.6 L1045.0,702.3 L1046.4,702.0 L1047.9,701.7 L1049.3,701.4 L1050.7,701.1 L1052.1,700.8 L1053.6,700.5 L1055.0,700.2 L1056.4,699.9 L1057.9,699.6 L1059.3,699.3 L1060.7,699.0 L1061.3,698.9 M1075.6,696.1 L1077.0,695.8 L1078.5,695.5 L1079.9,695.3 L1081.3,695.0 L1082.7,694.7 L1084.2,694.5 L1085.6,694.2 L1087.0,693.9 L1088.5,693.7 L1089.9,693.4 L1091.3,693.1 L1092.8,692.9 L1094.2,692.6 L1095.6,692.4 L1097.0,692.1 L1098.5,691.9 L1099.9,691.6 L1101.3,691.4 L1102.8,691.1 L1104.2,690.9 L1105.6,690.6 L1107.1,690.4 L1108.5,690.1 L1109.9,689.9 L1111.3,689.7 L1112.8,689.4 L1113.3,689.3 M1127.6,687.0 L1129.1,686.8 L1130.5,686.6 L1131.9,686.4 L1133.4,686.1 L1134.8,685.9 L1136.2,685.7 L1137.7,685.5 L1139.1,685.3 L1140.5,685.1 L1141.9,684.8 L1143.4,684.6 L1144.8,684.4 L1146.2,684.2 L1147.7,684.0 L1149.1,683.8 L1150.5,683.6 L1152.0,683.4 L1153.4,683.2 L1154.8,683.0 L1156.2,682.8 L1157.7,682.6 L1159.1,682.4 L1160.5,682.2 L1162.0,682.0 L1163.4,681.8 L1164.8,681.6 L1165.4,681.5 M1179.7,679.6 L1181.1,679.4 L1182.6,679.2 L1184.0,679.1 L1185.4,678.9 L1186.8,678.7 L1188.3,678.5 L1189.7,678.3 L1191.1,678.2 L1192.6,678.0 L1194.0,677.8 L1195.4,677.6 L1196.9,677.5 L1198.3,677.3 L1199.7,677.1 L1201.1,677.0 L1202.6,676.8 L1204.0,676.6 L1205.4,676.5 L1206.9,676.3 L1208.3,676.1 L1209.7,676.0 L1211.2,675.8 L1212.6,675.6 L1214.0,675.5 L1215.4,675.3 L1216.9,675.1 L1217.5,675.1 M1231.5,673.6 L1232.9,673.4 L1234.3,673.3 L1235.8,673.1 L1237.2,673.0 L1238.6,672.8 L1240.0,672.7 L1241.5,672.5 L1242.9,672.4 L1244.3,672.2 L1245.8,672.1 L1247.2,671.9 L1248.6,671.8 L1250.1,671.7 L1251.5,671.5 L1252.9,671.4 L1254.3,671.2 L1255.8,671.1 L1257.2,671.0 L1258.6,670.8 L1260.1,670.7 L1261.5,670.6 L1262.9,670.4 L1264.4,670.3 L1265.8,670.2 L1267.2,670.0 L1268.6,669.9 L1269.5,669.8 M1283.5,668.6 L1284.9,668.4 L1286.4,668.3 L1287.8,668.2 L1289.2,668.1 L1290.7,668.0 L1292.1,667.8 L1293.5,667.7 L1295.0,667.6 L1296.4,667.5 L1297.8,667.4 L1299.2,667.3 L1300.7,667.1 L1302.1,667.0 L1303.5,666.9 L1305.0,666.8 L1306.4,666.7 L1307.8,666.6 L1309.3,666.4 L1310.7,666.3 L1312.1,666.2 L1313.5,666.1 L1315.0,666.0 L1316.4,665.9 L1317.8,665.8 L1319.3,665.7 L1320.7,665.6 L1321.6,665.5 M1335.6,664.5 L1337.0,664.4 L1338.4,664.3 L1339.9,664.2 L1341.3,664.1 L1342.7,664.0 L1344.1,663.9 L1345.6,663.8 L1347.0,663.7 L1348.4,663.6 L1349.9,663.5 L1351.3,663.4 L1352.7,663.3 L1354.2,663.2 L1355.6,663.1 L1357.0,663.0 L1358.4,662.9 L1359.9,662.8 L1361.3,662.7 L1362.7,662.7 L1364.2,662.6 L1365.6,662.5 L1367.0,662.4 L1368.5,662.3 L1369.9,662.2 L1371.3,662.1 L1372.7,662.0 L1373.6,662.0 M1387.6,661.1 L1389.0,661.1 L1390.5,661.0 L1391.9,660.9 L1393.3,660.8 L1394.8,660.7 L1396.2,660.6 L1397.6,660.6 L1399.1,660.5 L1400.5,660.4 L1401.9,660.3 L1403.4,660.2 L1404.8,660.2 L1406.2,660.1 L1407.6,660.0 L1409.1,659.9 L1410.5,659.9 L1411.9,659.8 L1413.4,659.7 L1414.8,659.6 L1416.2,659.6 L1417.7,659.5 L1419.1,659.4 L1420.5,659.3 L1421.9,659.3 L1423.4,659.2 L1424.8,659.1 L1425.7,659.1 M1439.7,658.4 L1441.1,658.3 L1442.5,658.3 L1444.0,658.2 L1445.4,658.1 L1446.8,658.1 L1448.3,658.0 L1449.7,657.9 L1451.1,657.9 L1452.5,657.8 L1454.0,657.7 L1455.4,657.7 L1456.8,657.6 L1458.3,657.5 L1459.7,657.5 L1461.1,657.4 L1462.6,657.3 L1464.0,657.3 L1465.4,657.2 L1466.8,657.2 L1468.3,657.1 L1469.7,657.0 L1471.1,657.0 L1472.6,656.9 L1474.0,656.9 L1475.4,656.8 L1476.9,656.7 L1477.7,656.7 M1491.7,656.1 L1493.2,656.1 L1494.6,656.0 L1496.0,656.0 L1497.4,655.9 L1498.9,655.9 L1500.3,655.8 L1501.7,655.8 L1503.2,655.7 L1504.6,655.6 L1506.0,655.6 L1507.5,655.5 L1508.9,655.5 L1510.3,655.4 L1511.7,655.4 L1513.2,655.3 L1514.6,655.3 L1516.0,655.2 L1517.5,655.2 L1518.9,655.1 L1520.3,655.1 L1521.8,655.0 L1523.2,655.0 L1524.6,654.9 L1526.0,654.9 L1527.5,654.8 L1528.9,654.8 L1529.8,654.8 M1543.8,654.3 L1545.2,654.2 L1546.6,654.2 L1548.1,654.2 L1549.5,654.1 L1550.9,654.1 L1552.4,654.0 L1553.8,654.0 L1555.2,653.9 L1556.6,653.9 L1558.1,653.8 L1559.5,653.8 L1560.9,653.8 L1562.4,653.7 L1563.8,653.7 L1565.2,653.6 L1566.7,653.6 L1568.1,653.5 L1569.5,653.5 L1570.9,653.5 L1572.4,653.4 L1573.8,653.4 L1575.2,653.3 L1576.7,653.3 L1578.1,653.3 L1579.5,653.2 L1581.0,653.2 L1581.5,653.2 M1595.8,652.8 L1597.3,652.7 L1598.7,652.7 L1600.1,652.7 L1601.5,652.6 L1603.0,652.6 L1604.4,652.6 L1605.8,652.5 L1607.3,652.5 L1608.7,652.5 L1610.1,652.4 L1611.6,652.4 L1613.0,652.3 L1614.4,652.3 L1615.8,652.3 L1617.3,652.2 L1618.7,652.2 L1620.1,652.2 L1621.6,652.1 L1623.0,652.1 L1624.4,652.1 L1625.9,652.0 L1627.3,652.0 L1628.7,652.0 L1630.1,651.9 L1631.6,651.9 L1633.0,651.9 L1633.6,651.9 M1647.9,651.5 L1649.3,651.5 L1650.7,651.5 L1652.2,651.5 L1653.6,651.4 L1655.0,651.4 L1656.5,651.4 L1657.9,651.3 L1659.3,651.3 L1660.8,651.3 L1662.2,651.2 L1663.6,651.2 L1665.0,651.2 L1666.5,651.2 L1667.9,651.1 L1669.3,651.1 L1670.8,651.1 L1672.2,651.0 L1673.6,651.0 L1675.0,651.0 L1676.5,651.0 L1677.9,650.9 L1679.3,650.9 L1680.8,650.9 L1682.2,650.8 L1683.6,650.8 L1685.1,650.8 L1685.6,650.8 M1699.9,650.5 L1701.4,650.5 L1702.8,650.5 L1704.2,650.5 L1705.7,650.4 L1707.1,650.4 L1708.5,650.4 L1709.9,650.4 L1711.4,650.3 L1712.8,650.3 L1714.2,650.3 L1715.7,650.3 L1717.1,650.2 L1718.5,650.2 L1720.0,650.2 L1721.4,650.2 L1722.8,650.1 L1724.2,650.1 L1725.7,650.1 L1727.1,650.1 L1728.5,650.0 L1730.0,650.0 L1731.4,650.0 L1732.8,650.0 L1734.3,650.0 L1735.7,649.9 L1737.1,649.9 L1737.7,649.9 M1752.0,649.7 L1753.4,649.7 L1754.8,649.7 L1756.3,649.6 L1757.7,649.6 L1759.1,649.6 L1760.6,649.6 L1762.0,649.6 L1763.4,649.5 L1764.9,649.5 L1766.3,649.5 L1767.7,649.5 L1769.1,649.5 L1770.6,649.4 L1772.0,649.4 L1773.4,649.4 L1774.9,649.4 L1776.3,649.4 L1777.7,649.3 L1779.2,649.3 L1780.6,649.3 L1782.0,649.3 L1783.4,649.3 L1784.9,649.2 L1786.3,649.2 L1787.7,649.2 L1789.2,649.2 L1789.7,649.2 M1804.0,649.0 L1805.5,649.0 L1806.9,649.0 L1808.3,649.0 L1809.8,648.9 L1811.2,648.9 L1812.6,648.9 L1814.0,648.9 L1815.5,648.9 L1816.9,648.9 L1818.3,648.8 L1819.8,648.8 L1821.2,648.8 L1822.6,648.8 L1824.1,648.8 L1825.5,648.8 L1826.9,648.8 L1828.3,648.7 L1829.8,648.7 L1831.2,648.7 L1832.6,648.7 L1834.1,648.7 L1835.5,648.7 L1836.9,648.6 L1838.4,648.6 L1839.8,648.6 L1841.2,648.6 L1841.8,648.6 M1856.1,648.5 L1857.5,648.4 L1858.9,648.4 L1860.4,648.4 L1861.8,648.4 L1863.2,648.4 L1864.7,648.4 L1866.1,648.4 L1867.5,648.3 L1869.0,648.3 L1870.4,648.3 L1871.8,648.3 L1873.2,648.3 L1874.7,648.3 L1876.1,648.3 L1877.5,648.3 L1879.0,648.2 L1880.4,648.2 L1881.8,648.2 L1883.3,648.2 L1884.7,648.2 L1886.1,648.2 L1887.5,648.2 L1889.0,648.2 L1890.4,648.1 L1891.8,648.1 L1893.3,648.1 L1893.8,648.1 M1908.1,648.0 L1909.6,648.0 L1911.0,648.0 L1912.4,648.0 L1913.9,647.9 L1915.3,647.9 L1916.7,647.9 L1918.2,647.9 L1919.6,647.9 L1921.0,647.9 L1922.4,647.9 L1923.9,647.9 L1925.3,647.9 L1926.7,647.9 L1928.2,647.8 L1929.6,647.8 L1931.0,647.8 L1932.5,647.8 L1933.9,647.8 L1935.3,647.8 L1936.7,647.8 L1938.2,647.8 L1939.6,647.8 L1941.0,647.7 L1942.5,647.7 L1943.9,647.7 L1945.3,647.7 L1945.9,647.7 M1959.9,647.6 L1961.3,647.6 L1962.8,647.6 L1964.2,647.6 L1965.6,647.6 L1967.1,647.6 L1968.5,647.6 L1969.9,647.6 L1971.3,647.5 L1972.8,647.5 L1974.2,647.5 L1975.6,647.5 L1977.1,647.5 L1978.5,647.5 L1979.9,647.5 L1981.4,647.5 L1982.8,647.5 L1984.2,647.5 L1985.6,647.5 L1987.1,647.5 L1988.5,647.4 L1989.9,647.4 L1991.4,647.4 L1992.8,647.4 L1994.2,647.4 L1995.7,647.4 L1997.1,647.4 L1997.9,647.4 M2012.0,647.3 L2013.4,647.3 L2014.8,647.3 L2016.2,647.3 L2017.7,647.3 L2019.1,647.3 L2020.5,647.3 L2022.0,647.3 L2023.4,647.3 L2024.8,647.2 L2026.3,647.2 L2027.7,647.2 L2029.1,647.2 L2030.5,647.2 L2032.0,647.2 L2033.4,647.2 L2034.8,647.2 L2036.3,647.2 L2037.7,647.2 L2039.1,647.2 L2040.6,647.2 L2042.0,647.2 L2043.4,647.2 L2044.8,647.1 L2046.3,647.1 L2047.7,647.1 L2049.1,647.1 L2050.0,647.1" stroke="#000" stroke-width="4.3" fill="none"/>
<path d="M338.0,1486.6 L345.1,1433.0 L352.3,1383.9 L359.4,1338.6 L366.6,1296.8 L373.8,1258.0 L380.9,1221.9 L388.1,1188.3 L395.2,1157.0 L402.4,1127.6 L409.5,1100.0 L416.6,1074.1 L423.8,1049.7 L430.9,1026.7 L438.1,1004.9 L445.2,984.3 L452.4,964.8 L459.6,946.3 L466.7,928.7 L473.9,911.9 L481.0,896.0 L488.1,880.7 L495.3,866.2 L502.5,852.3 L509.6,839.0 L516.8,826.3 L523.9,814.1 L531.0,802.3 L538.2,791.1 L545.4,780.3 L552.5,769.9 L559.6,759.9 L566.8,750.2 L574.0,740.9 L581.1,732.0 L588.2,723.3 L595.4,715.0 L602.5,706.9 L609.7,699.1 L616.9,691.5 L624.0,684.2 L631.2,677.1 L638.3,670.3 L645.5,663.6 L652.6,657.2 L659.8,650.9 L666.9,644.9 L674.0,639.0 L681.2,633.2 L688.4,627.7 L695.5,622.2 L702.7,617.0 L709.8,611.9 L717.0,606.9 L724.1,602.0 L731.2,597.3 L738.4,592.7 L745.5,588.2 L752.7,583.8 L759.9,579.5 L767.0,575.3 L774.2,571.2 L781.3,567.3 L788.5,563.4 L795.6,559.6 L802.8,555.9 L809.9,552.3 L817.0,548.7 L824.2,545.3 L831.4,541.9 L838.5,538.6 L845.7,535.3 L852.8,532.1 L860.0,529.0 L867.1,526.0 L874.2,523.0 L881.4,520.1 L888.6,517.2 L895.7,514.4 L902.9,511.7 L910.0,509.0 L917.1,506.3 L924.3,503.7 L931.5,501.2 L938.6,498.7 L945.8,496.3 L952.9,493.8 L960.1,491.5 L967.2,489.2 L974.4,486.9 L981.5,484.7 L988.6,482.5 L995.8,480.3 L1003.0,478.2 L1010.1,476.1 L1017.2,474.1 L1024.4,472.0 L1031.6,470.1 L1038.7,468.1 L1045.8,466.2 L1053.0,464.3 L1060.2,462.5 L1067.3,460.6 L1074.5,458.9 L1081.6,457.1 L1088.8,455.3 L1095.9,453.6 L1103.1,452.0 L1110.2,450.3 L1117.3,448.7 L1124.5,447.1 L1131.7,445.5 L1138.8,443.9 L1146.0,442.4 L1153.1,440.9 L1160.2,439.4 L1167.4,437.9 L1174.6,436.4 L1181.7,435.0 L1188.8,433.6 L1196.0,432.2 L1203.2,430.8 L1210.3,429.5 L1217.5,428.2 L1224.6,426.8 L1231.8,425.5 L1238.9,424.3 L1246.1,423.0 L1253.2,421.8 L1260.3,420.5 L1267.5,419.3 L1274.7,418.1 L1281.8,416.9 L1289.0,415.8 L1296.1,414.6 L1303.2,413.5 L1310.4,412.4 L1317.6,411.3 L1324.7,410.2 L1331.8,409.1 L1339.0,408.0 L1346.2,407.0 L1353.3,405.9 L1360.5,404.9 L1367.6,403.9 L1374.8,402.9 L1381.9,401.9 L1389.0,400.9 L1396.2,399.9 L1403.4,399.0 L1410.5,398.0 L1417.7,397.1 L1424.8,396.2 L1432.0,395.2 L1439.1,394.3 L1446.2,393.4 L1453.4,392.6 L1460.5,391.7 L1467.7,390.8 L1474.9,390.0 L1482.0,389.1 L1489.2,388.3 L1496.3,387.5 L1503.5,386.6 L1510.6,385.8 L1517.8,385.0 L1524.9,384.2 L1532.0,383.5 L1539.2,382.7 L1546.4,381.9 L1553.5,381.2 L1560.7,380.4 L1567.8,379.7 L1575.0,378.9 L1582.1,378.2 L1589.2,377.5 L1596.4,376.8 L1603.5,376.0 L1610.7,375.3 L1617.9,374.7 L1625.0,374.0 L1632.2,373.3 L1639.3,372.6 L1646.5,372.0 L1653.6,371.3 L1660.8,370.6 L1667.9,370.0 L1675.0,369.3 L1682.2,368.7 L1689.4,368.1 L1696.5,367.5 L1703.7,366.8 L1710.8,366.2 L1718.0,365.6 L1725.1,365.0 L1732.2,364.4 L1739.4,363.8 L1746.6,363.3 L1753.7,362.7 L1760.9,362.1 L1768.0,361.5 L1775.2,361.0 L1782.3,360.4 L1789.5,359.9 L1796.6,359.3 L1803.8,358.8 L1810.9,358.2 L1818.1,357.7 L1825.2,357.2 L1832.4,356.6 L1839.5,356.1 L1846.7,355.6 L1853.8,355.1 L1861.0,354.6 L1868.1,354.1 L1875.2,353.6 L1882.4,353.1 L1889.6,352.6 L1896.7,352.1 L1903.9,351.6 L1911.0,351.2 L1918.2,350.7 L1925.3,350.2 L1932.5,349.8 L1939.6,349.3 L1946.8,348.8 L1953.9,348.4 L1961.1,347.9 L1968.2,347.5 L1975.4,347.0 L1982.5,346.6 L1989.7,346.2 L1996.8,345.7 L2004.0,345.3 L2011.1,344.9 L2018.2,344.4 L2025.4,344.0 L2032.6,343.6 L2039.7,343.2 L2046.9,342.8 L2054.0,342.4" stroke="#ff1a1a" stroke-width="3.7" fill="none"/>
<path d="M338.0,1486.6 L345.1,1457.4 L352.3,1429.8 L359.4,1403.8 L366.6,1379.2 L373.8,1355.9 L380.9,1333.8 L388.1,1312.8 L395.2,1292.8 L402.4,1273.7 L409.5,1255.6 L416.6,1238.3 L423.8,1221.7 L430.9,1205.9 L438.1,1190.7 L445.2,1176.2 L452.4,1162.2 L459.6,1148.8 L466.7,1136.0 L473.9,1123.6 L481.0,1111.7 L488.1,1100.3 L495.3,1089.2 L502.5,1078.6 L509.6,1068.3 L516.8,1058.4 L523.9,1048.8 L531.0,1039.5 L538.2,1030.6 L545.4,1021.9 L552.5,1013.5 L559.6,1005.4 L566.8,997.5 L574.0,989.9 L581.1,982.4 L588.2,975.2 L595.4,968.3 L602.5,961.5 L609.7,954.9 L616.9,948.5 L624.0,942.2 L631.2,936.1 L638.3,930.2 L645.5,924.5 L652.6,918.9 L659.8,913.4 L666.9,908.1 L674.0,902.9 L681.2,897.8 L688.4,892.9 L695.5,888.1 L702.7,883.4 L709.8,878.8 L717.0,874.3 L724.1,869.9 L731.2,865.6 L738.4,861.5 L745.5,857.4 L752.7,853.4 L759.9,849.4 L767.0,845.6 L774.2,841.9 L781.3,838.2 L788.5,834.6 L795.6,831.1 L802.8,827.6 L809.9,824.2 L817.0,820.9 L824.2,817.7 L831.4,814.5 L838.5,811.4 L845.7,808.3 L852.8,805.3 L860.0,802.4 L867.1,799.5 L874.2,796.6 L881.4,793.8 L888.6,791.1 L895.7,788.4 L902.9,785.8 L910.0,783.2 L917.1,780.6 L924.3,778.1 L931.5,775.7 L938.6,773.3 L945.8,770.9 L952.9,768.6 L960.1,766.3 L967.2,764.0 L974.4,761.8 L981.5,759.6 L988.6,757.4 L995.8,755.3 L1003.0,753.3 L1010.1,751.2 L1017.2,749.2 L1024.4,747.2 L1031.6,745.2 L1038.7,743.3 L1045.8,741.4 L1053.0,739.6 L1060.2,737.7 L1067.3,735.9 L1074.5,734.1 L1081.6,732.4 L1088.8,730.6 L1095.9,728.9 L1103.1,727.2 L1110.2,725.6 L1117.3,723.9 L1124.5,722.3 L1131.7,720.7 L1138.8,719.1 L1146.0,717.6 L1153.1,716.1 L1160.2,714.6 L1167.4,713.1 L1174.6,711.6 L1181.7,710.2 L1188.8,708.7 L1196.0,707.3 L1203.2,705.9 L1210.3,704.6 L1217.5,703.2 L1224.6,701.9 L1231.8,700.5 L1238.9,699.2 L1246.1,697.9 L1253.2,696.7 L1260.3,695.4 L1267.5,694.2 L1274.7,692.9 L1281.8,691.7 L1289.0,690.5 L1296.1,689.3 L1303.2,688.2 L1310.4,687.0 L1317.6,685.9 L1324.7,684.8 L1331.8,683.6 L1339.0,682.5 L1346.2,681.4 L1353.3,680.4 L1360.5,679.3 L1367.6,678.3 L1374.8,677.2 L1381.9,676.2 L1389.0,675.2 L1396.2,674.2 L1403.4,673.2 L1410.5,672.2 L1417.7,671.2 L1424.8,670.2 L1432.0,669.3 L1439.1,668.3 L1446.2,667.4 L1453.4,666.5 L1460.5,665.6 L1467.7,664.7 L1474.9,663.8 L1482.0,662.9 L1489.2,662.0 L1496.3,661.1 L1503.5,660.3 L1510.6,659.4 L1517.8,658.6 L1524.9,657.8 L1532.0,656.9 L1539.2,656.1 L1546.4,655.3 L1553.5,654.5 L1560.7,653.7 L1567.8,652.9 L1575.0,652.2 L1582.1,651.4 L1589.2,650.6 L1596.4,649.9 L1603.5,649.1 L1610.7,648.4 L1617.9,647.7 L1625.0,646.9 L1632.2,646.2 L1639.3,645.5 L1646.5,644.8 L1653.6,644.1 L1660.8,643.4 L1667.9,642.7 L1675.0,642.0 L1682.2,641.4 L1689.4,640.7 L1696.5,640.0 L1703.7,639.4 L1710.8,638.7 L1718.0,638.1 L1725.1,637.4 L1732.2,636.8 L1739.4,636.2 L1746.6,635.6 L1753.7,634.9 L1760.9,634.3 L1768.0,633.7 L1775.2,633.1 L1782.3,632.5 L1789.5,631.9 L1796.6,631.3 L1803.8,630.8 L1810.9,630.2 L1818.1,629.6 L1825.2,629.0 L1832.4,628.5 L1839.5,627.9 L1846.7,627.4 L1853.8,626.8 L1861.0,626.3 L1868.1,625.7 L1875.2,625.2 L1882.4,624.7 L1889.6,624.1 L1896.7,623.6 L1903.9,623.1 L1911.0,622.6 L1918.2,622.1 L1925.3,621.6 L1932.5,621.1 L1939.6,620.6 L1946.8,620.1 L1953.9,619.6 L1961.1,619.1 L1968.2,618.6 L1975.4,618.1 L1982.5,617.7 L1989.7,617.2 L1996.8,616.7 L2004.0,616.3 L2011.1,615.8 L2018.2,615.3 L2025.4,614.9 L2032.6,614.4 L2039.7,614.0 L2046.9,613.5 L2054.0,613.1" stroke="#1a1aff" stroke-width="3.7" fill="none"/>
<path d="M869.7,362 V438.7" stroke="#333" stroke-width="4.4" fill="none"/><path d="M847.7,414.5 L869.7,439.7 L891.7,414.5" stroke="#000" stroke-width="4.4" fill="none" stroke-linejoin="round"/><path d="M862.7,429.7 L869.7,442.7 L876.7,429.7 Z" fill="#000"/>
<path d="M1954.3,235.6 V313" stroke="#333" stroke-width="4.4" fill="none"/><path d="M1932.3,288.5 L1954.3,314 L1976.3,288.5" stroke="#000" stroke-width="4.4" fill="none" stroke-linejoin="round"/><path d="M1947.3,304 L1954.3,317 L1961.3,304 Z" fill="#000"/>
<path d="M1962.8,522.3 V598.9" stroke="#333" stroke-width="4.4" fill="none"/><path d="M1940.8,575 L1962.8,599.9 L1984.8,575" stroke="#000" stroke-width="4.4" fill="none" stroke-linejoin="round"/><path d="M1955.8,589.9 L1962.8,602.9 L1969.8,589.9 Z" fill="#000"/>
<path d="M1973.8,759.4 V701.3" stroke="#666" stroke-width="4.0" fill="none"/><path d="M1956.8,719.7 L1973.8,699.3 L1990.8,719.7" stroke="#000" stroke-width="3" fill="none" stroke-linejoin="round"/><path d="M1968.8,707.3 L1973.8,697.3 L1978.8,707.3 Z" fill="#000"/>
<text class="r" transform="translate(672.71,343.60) scale(0.9363,1)" font-size="58.50" font-weight="normal">Pseudo 1</text>
<text class="r" transform="translate(876.01,311.80) scale(0.9555,1)" font-size="58.50" font-weight="normal">st</text>
<text class="r" transform="translate(925.85,343.60) scale(0.9666,1)" font-size="58.50" font-weight="normal">order</text>
<text class="r" transform="translate(1724.78,221.40) scale(0.9543,1)" font-size="58.50" font-weight="normal">Pseudo 2</text>
<text class="r" transform="translate(1927.66,188.80) scale(0.9185,1)" font-size="58.50" font-weight="normal">nd</text>
<text class="r" transform="translate(1997.88,221.40) scale(0.9517,1)" font-size="58.50" font-weight="normal">order</text>
<text class="r" transform="translate(1758.29,476.60) scale(0.9519,1)" font-size="58.50" font-weight="normal">Pseudo 2</text>
<text class="r" transform="translate(1961.57,445.80) scale(0.9168,1)" font-size="58.50" font-weight="normal">nd</text>
<text class="r" transform="translate(2029.25,476.60) scale(0.9650,1)" font-size="58.50" font-weight="normal">order</text>
<text class="r" transform="translate(1780.92,851.90) scale(0.9310,1)" font-size="58.50" font-weight="normal">Pseudo 1</text>
<text class="r" transform="translate(1981.58,821.40) scale(1.0107,1)" font-size="58.50" font-weight="normal">st</text>
<text class="r" transform="translate(2032.66,851.90) scale(0.9616,1)" font-size="58.50" font-weight="normal">order</text>
<text transform="translate(2090.63,347.00) scale(0.9492,1)" font-size="59.00" font-weight="bold">SB-MH</text>
<text transform="translate(2099.51,673.40) scale(0.9572,1)" font-size="59.00" font-weight="bold">SB-M</text>
<g><path d="M1373,1158.1000000000001 L1352.7,1178.4 L1373,1198.7 Z" fill="#0000ff"/><path d="M1373,1158.1000000000001 L1393.3,1178.4 L1373,1198.7 Z" fill="#000"/><path d="M1373,1158.1000000000001 L1393.3,1178.4 L1373,1198.7 L1352.7,1178.4 Z" fill="none" stroke="#000" stroke-width="2.2" stroke-linejoin="miter"/></g>
<g><path d="M1373,1229.1754999999998 A20.7,21.4245 0 0 0 1373,1272.0245 Z" fill="#ff0000"/><path d="M1373,1229.1754999999998 A20.7,21.4245 0 0 1 1373,1272.0245 Z" fill="#000"/><ellipse cx="1373" cy="1250.6" rx="20.7" ry="21.4245" fill="none" stroke="#000" stroke-width="2.2"/></g>
<text transform="translate(1465.35,1198.80) scale(0.9604,1)" font-size="58.00" font-weight="bold">SB-M experimental data</text>
<text transform="translate(1465.35,1271.00) scale(0.9589,1)" font-size="58.00" font-weight="bold">SB-MH experimental data</text>
<text transform="translate(1144.13,1731.20) scale(0.9821,1)" font-size="68.00" font-weight="bold">Time <tspan font-weight="normal">(</tspan>min<tspan font-weight="normal">)</tspan></text>
<g transform="translate(94.3,1187.7) rotate(-90)"><text transform="translate(-0.57,0) scale(1.0252,1)" font-size="67.5" font-weight="bold">Pb<tspan font-weight="normal">(</tspan>II<tspan font-weight="normal">)</tspan> ion adsorbed <tspan font-weight="normal">(</tspan>mg g</text><text transform="translate(764.78,-3.58) scale(1.386,3.4)" font-size="46.5" font-weight="bold">−</text><text transform="translate(804.80,-31.8) scale(0.86,1)" font-size="46.5" font-weight="bold">1</text><text transform="translate(826.59,0) scale(1.0252,1)" font-size="67.5">)</text></g>
</svg>
</body></html>
